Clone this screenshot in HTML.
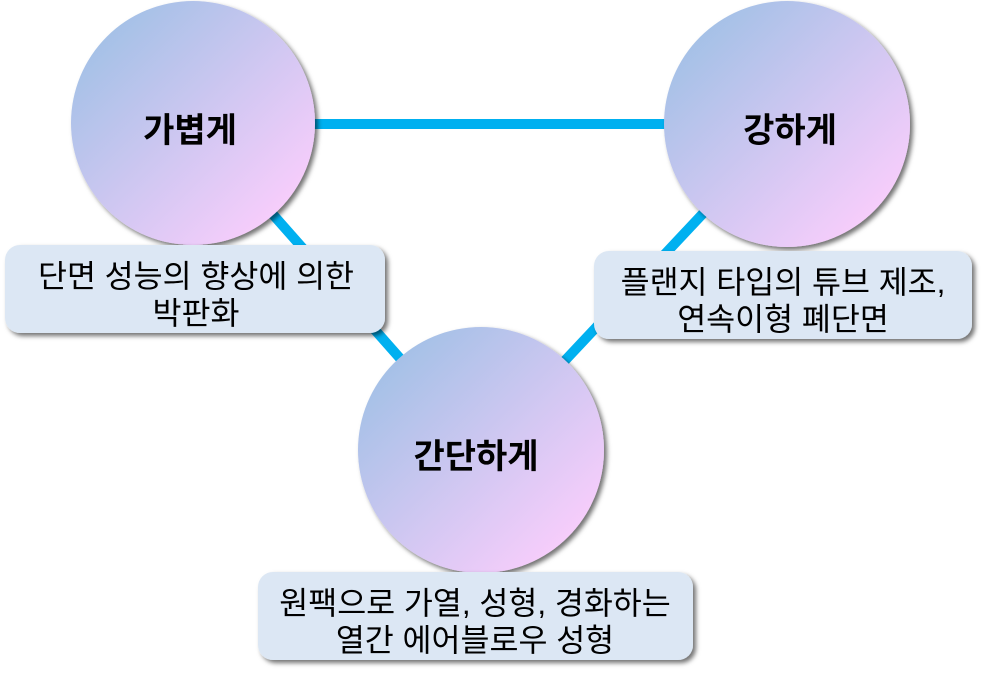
<!DOCTYPE html>
<html><head><meta charset="utf-8"><style>
html,body{margin:0;padding:0;background:#fff;width:986px;height:675px;overflow:hidden}
text{font-family:"Liberation Sans","Noto Sans CJK KR",sans-serif}
</style></head><body>
<svg width="986" height="675" viewBox="0 0 986 675" xmlns="http://www.w3.org/2000/svg">
<defs>
<linearGradient id="g" x1="0" y1="0" x2="1" y2="1">
<stop offset="0.15" stop-color="#a6c1e7"/><stop offset="0.85" stop-color="#f6cdfb"/>
</linearGradient>
<filter id="s" x="-20%" y="-20%" width="140%" height="140%">
<feDropShadow dx="3" dy="3" stdDeviation="2.5" flood-color="#000" flood-opacity="0.55"/>
</filter>
</defs>
<g stroke="#00b0f0" stroke-width="10">
<line x1="193" y1="124" x2="787" y2="124"/>
<line x1="193" y1="124" x2="481" y2="450"/>
<line x1="787" y1="124" x2="481" y2="450"/>
</g>
<g fill="url(#g)" filter="url(#s)">
<circle cx="193" cy="123" r="122"/>
<circle cx="787" cy="124" r="123"/>
<circle cx="481" cy="450" r="123"/>
</g>
<g font-size="34" font-weight="bold" text-anchor="middle" fill="#000">
<text x="190" y="142">가볍게</text>
<text x="790" y="142">강하게</text>
<text x="476" y="468">간단하게</text>
</g>
<g fill="#dce7f4" filter="url(#s)">
<rect x="5" y="245" width="380" height="88" rx="15"/>
<rect x="594" y="251" width="378" height="88" rx="15"/>
<rect x="258" y="572" width="435" height="88" rx="15"/>
</g>
<g font-size="31.5" text-anchor="middle" fill="#000">
<text x="196" y="287">단면 성능의 향상에 의한</text>
<text x="196" y="324">박판화</text>
<text x="783" y="293">플랜지 타입의 튜브 제조,</text>
<text x="783" y="330">연속이형 폐단면</text>
<text x="475" y="614">원팩으로 가열, 성형, 경화하는</text>
<text x="475" y="651">열간 에어블로우 성형</text>
</g>
</svg>
</body></html>
